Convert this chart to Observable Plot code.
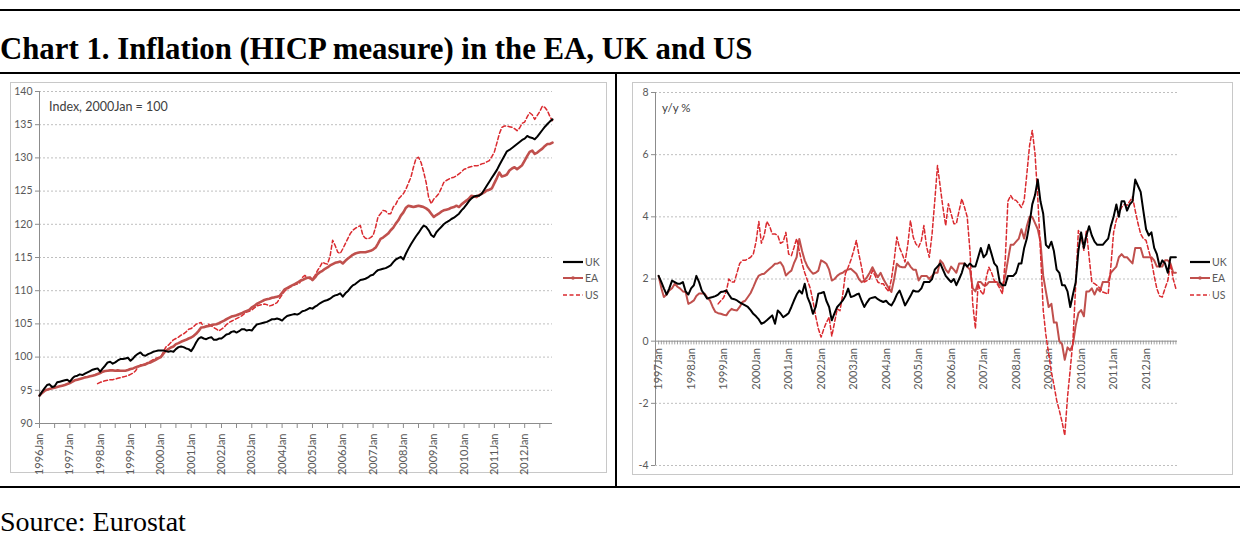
<!DOCTYPE html>
<html><head><meta charset="utf-8">
<script src="https://cdn.jsdelivr.net/npm/d3@7"></script>
<script src="https://cdn.jsdelivr.net/npm/@observablehq/plot@0.6"></script>
<style>
html,body{margin:0;padding:0;background:#fff;}
#page{position:relative;width:1240px;height:548px;overflow:hidden;background:#fff;}
.rule{position:absolute;background:#000;}
.title{position:absolute;left:0;top:34px;font:bold 30.8px/30px "Liberation Serif","Times New Roman",serif;color:#000;white-space:nowrap;}
.source{position:absolute;left:0;top:508px;font:28px/28px "Liberation Serif","Times New Roman",serif;color:#000;white-space:nowrap;}
.box{position:absolute;border:1px solid #c8c8c8;box-sizing:border-box;}
.panel{position:absolute;}
.note{position:absolute;font-family:Lato,"Open Sans",sans-serif;color:#404040;white-space:nowrap;}
.leg{position:absolute;font:10.5px/10px Lato,"Open Sans",sans-serif;color:#595959;white-space:nowrap;display:flex;align-items:center;}
.leg svg{display:block;margin-right:2px;}
</style></head>
<body><div id="page">
<div class="rule" style="left:0;top:9px;width:1240px;height:2px"></div>
<div class="title">Chart 1. Inflation (HICP measure) in the EA, UK and US</div>
<div class="rule" style="left:0;top:72px;width:1240px;height:2px"></div>
<div class="rule" style="left:615px;top:72px;width:2px;height:416px"></div>
<div class="rule" style="left:0;top:486px;width:1240px;height:2px"></div>
<div class="source">Source: Eurostat</div>
<div class="box" style="left:10px;top:82px;width:597px;height:391px"></div>
<div class="box" style="left:632px;top:82px;width:601px;height:393px"></div>
<div id="left" class="panel" style="left:10px;top:82px"></div>
<div id="right" class="panel" style="left:632px;top:82px"></div>
<div class="note" style="left:49px;top:99px;font-size:12.5px;">Index, 2000Jan = 100</div>
<div class="note" style="left:662px;top:101px;font-size:11.5px;">y/y %</div>
<div id="legends"></div>
</div>
<script>
// ---------- data ----------
const seriesNames = ["UK", "EA", "US"];

// Index, 2000Jan = 100 ; monthly from 1996 Jan
const ukIndex = [
94.2,94.8,95.3,95.8,95.9,95.5,95.6,96.2,96.3,96.4,96.5,96.6,
96.3,96.8,97.1,97.2,97.4,97.3,97.5,97.7,97.9,98.1,98.2,98.3,
97.8,98.3,98.7,99.2,99.3,99.0,99.2,99.5,99.7,99.7,99.8,99.9,
99.45,99.8,100.2,100.5,100.7,100.3,100.2,100.45,100.6,100.8,100.9,101.0,
101.0,101.0,100.9,100.8,100.9,100.8,101.2,101.5,101.6,101.5,101.3,101.2,
100.9,101.5,102.2,102.8,103.0,102.8,102.7,102.9,103.0,102.6,102.6,102.8,
102.8,103.1,103.4,103.5,103.8,103.9,103.7,103.9,104.2,104.2,104.0,104.1,
104.0,104.5,104.9,105.0,105.1,105.2,105.3,105.5,105.7,105.7,105.8,105.7,
105.5,105.9,106.2,106.3,106.4,106.5,106.4,106.6,106.9,107.0,107.2,107.4,
107.3,107.6,107.8,108.1,108.3,108.5,108.6,108.8,109.1,109.3,109.4,109.6,
109.1,109.6,109.9,110.4,110.8,111.0,111.3,111.6,111.7,111.8,112.0,112.3,
112.4,112.8,113.1,113.2,113.3,113.4,113.6,113.8,114.3,114.7,114.9,115.1,
114.7,115.6,116.3,117.0,117.6,118.2,118.7,119.3,119.8,119.6,119.1,118.4,
118.1,118.8,119.2,119.6,120.0,120.3,120.5,120.8,121.0,121.3,121.6,122.1,
122.5,123.0,123.5,123.9,124.2,124.3,124.3,124.6,125.2,125.8,126.4,127.0,
127.6,128.2,128.9,129.6,130.3,131.0,131.2,131.5,131.8,132.1,132.4,132.7,
132.9,133.3,133.1,133.0,132.8,133.2,133.7,134.2,134.7,135.1,135.5,135.8];

const eaIndex = [
94.2,94.6,94.9,95.1,95.2,95.3,95.4,95.5,95.6,95.7,95.8,95.95,
96.1,96.3,96.5,96.6,96.7,96.8,96.95,97.0,97.1,97.2,97.3,97.45,
97.6,97.8,97.9,97.95,98.0,98.0,97.95,98.0,97.95,97.95,97.95,98.05,
98.2,98.3,98.45,98.6,98.7,98.8,98.9,99.1,99.2,99.4,99.6,99.8,
100.0,100.5,100.95,101.2,101.45,101.6,101.95,102.1,102.3,102.45,102.6,102.8,
102.95,103.2,103.5,103.95,104.45,104.5,104.6,104.7,104.8,104.9,104.95,105.1,
105.3,105.5,105.7,105.9,106.1,106.2,106.3,106.45,106.6,106.8,106.95,107.1,
107.5,107.7,108.0,108.2,108.4,108.6,108.7,108.8,108.95,109.0,109.1,109.2,
109.7,110.2,110.4,110.6,110.8,111.0,111.2,111.45,111.6,111.8,111.95,112.0,
111.6,112.0,112.5,112.8,113.0,113.3,113.5,113.8,114.0,114.2,114.3,114.4,
114.1,114.5,114.8,115.1,115.4,115.6,115.7,115.8,115.8,115.8,115.9,116.0,
116.2,116.5,117.1,117.8,118.0,118.3,118.6,119.1,119.5,120.1,120.6,121.3,
121.8,122.5,122.8,122.7,122.6,122.7,122.8,122.7,122.6,122.4,122.1,121.6,
121.1,121.4,121.6,121.9,122.1,122.2,122.3,122.5,122.6,122.8,122.6,123.0,
123.3,123.6,123.9,124.3,124.2,124.1,124.4,124.6,124.8,125.1,125.2,125.4,
126.2,127.0,127.8,127.2,127.3,127.5,128.1,128.4,128.6,128.3,128.6,128.9,
129.6,130.3,130.9,131.1,130.6,130.8,131.1,131.4,131.8,132.1,132.1,132.3];

// monthly from 1997 Dec
const usIndex = [
96.0,
96.2,96.3,96.45,96.5,96.6,96.6,96.7,96.8,96.9,97.0,97.1,97.2,
97.4,97.6,97.9,98.5,98.8,98.9,99.0,99.2,99.4,99.6,99.8,99.95,
100.0,100.8,101.5,101.8,102.2,102.6,102.8,103.0,103.3,103.5,103.8,104.2,
104.3,104.6,104.95,105.1,105.2,104.5,104.7,104.95,104.7,104.45,104.2,103.95,
104.2,104.5,104.9,105.2,105.4,105.6,105.8,106.0,106.2,106.5,106.8,106.9,
107.1,107.4,107.7,107.8,107.9,108.0,107.9,107.7,107.8,108.0,108.2,108.8,
109.4,109.95,110.2,110.5,110.7,110.9,111.0,111.2,112.0,112.3,111.95,111.8,
111.8,112.3,113.0,113.6,114.3,114.1,114.0,115.2,117.6,116.8,115.8,115.6,
116.3,117.1,117.8,118.6,119.1,119.4,119.6,119.8,118.3,117.9,117.8,118.0,
118.3,119.6,121.1,121.6,122.1,122.0,121.6,121.6,122.6,123.0,123.8,124.2,
124.6,125.3,126.2,127.1,128.6,129.9,130.1,129.3,127.9,126.3,124.0,123.1,
123.8,124.2,124.6,125.4,126.3,126.6,126.8,127.0,127.1,127.3,127.6,127.9,
128.3,128.4,128.6,128.7,128.8,128.8,128.9,129.1,129.2,129.4,129.6,130.2,
130.9,132.3,133.6,134.6,134.8,134.8,134.7,134.6,134.4,134.1,134.5,135.2,
135.4,136.2,136.8,136.5,135.8,136.4,137.0,137.8,137.6,137.1,136.2,135.6];

// y/y %, monthly from 1997 Jan
const ukYoy = [
2.1,1.9,1.7,1.5,1.7,1.95,1.9,1.85,1.85,1.9,1.6,1.5,
1.7,1.8,2.1,1.9,1.63,1.5,1.37,1.4,1.42,1.45,1.5,1.58,
1.6,1.63,1.5,1.37,1.35,1.31,1.25,1.2,1.15,1.1,1.0,0.88,
0.8,0.7,0.56,0.6,0.67,0.75,0.83,0.56,0.99,0.9,0.77,0.83,
0.9,1.1,1.3,1.5,1.63,1.53,1.85,1.42,1.2,0.88,1.1,1.53,
1.55,1.58,1.3,1.1,0.67,0.9,1.1,1.2,1.31,1.45,1.69,1.42,
1.45,1.5,1.53,1.3,1.1,1.25,1.37,1.4,1.42,1.35,1.3,1.26,
1.3,1.2,1.15,1.3,1.5,1.63,1.4,1.15,1.3,1.45,1.63,1.6,
1.6,1.7,1.9,1.9,1.9,2.0,2.3,2.4,2.5,2.3,2.1,2.0,
1.9,2.0,1.8,2.0,2.2,2.5,2.4,2.5,2.4,2.4,2.7,3.0,
2.7,2.8,3.1,2.8,2.5,2.4,1.9,1.8,1.8,2.1,2.1,2.1,
2.2,2.5,2.5,3.0,3.3,3.8,4.4,4.7,5.2,4.5,4.1,3.1,
3.0,3.2,2.9,2.3,2.2,1.8,1.8,1.6,1.1,1.5,1.9,2.9,
3.5,3.0,3.4,3.7,3.4,3.2,3.1,3.1,3.1,3.2,3.3,3.7,
4.0,4.4,4.0,4.5,4.5,4.2,4.4,4.5,5.2,5.0,4.8,4.2,
3.6,3.4,3.5,3.0,2.8,2.4,2.6,2.5,2.2,2.7,2.7,2.7];

const eaYoy = [
2.1,1.7,1.42,1.5,1.63,1.7,1.85,1.75,1.69,1.6,1.58,1.2,
1.25,1.31,1.45,1.53,1.53,1.53,1.4,1.31,1.1,0.94,0.9,0.88,
0.85,0.83,0.95,1.04,1.0,0.99,1.1,1.26,1.3,1.42,1.55,1.74,
1.95,2.11,2.15,2.17,2.25,2.33,2.4,2.49,2.5,2.54,2.4,2.11,
2.2,2.27,2.5,2.7,3.29,2.9,2.6,2.4,2.27,2.17,2.2,2.27,
2.6,2.55,2.49,2.3,1.95,2.0,2.1,2.17,2.2,2.27,2.3,2.33,
2.25,2.17,2.0,1.9,1.95,2.06,2.2,2.38,2.2,2.06,2.2,2.0,
1.85,1.7,1.58,2.0,2.49,2.4,2.38,2.38,2.54,2.4,2.3,2.3,
1.95,2.1,2.1,2.1,2.0,2.1,2.2,2.2,2.6,2.5,2.3,2.2,
2.4,2.3,2.2,2.5,2.5,2.5,2.4,2.3,1.7,1.6,1.9,1.9,
1.8,1.8,1.9,1.9,1.9,1.9,1.8,1.7,2.1,2.6,3.1,3.1,
3.2,3.3,3.6,3.3,3.7,4.0,4.0,3.8,3.6,3.2,2.1,1.6,
1.1,1.2,0.6,0.6,0.0,-0.1,-0.6,-0.2,-0.3,-0.1,0.5,0.9,
1.0,0.8,1.6,1.6,1.7,1.5,1.7,1.6,1.9,1.9,1.9,2.2,
2.3,2.4,2.7,2.8,2.7,2.7,2.6,2.5,3.0,3.0,3.0,2.7,
2.7,2.7,2.7,2.6,2.4,2.4,2.4,2.6,2.6,2.5,2.2,2.2];

// monthly from 1998 Nov
const usYoy = [
1.2,1.3,
1.4,1.6,2.0,1.9,1.9,2.2,2.5,2.6,2.6,2.65,2.7,2.8,
3.2,3.85,3.15,3.4,3.85,3.7,3.45,3.45,3.4,3.15,3.2,3.5,
2.8,2.75,3.0,3.3,2.9,2.5,2.2,1.95,1.7,1.3,0.8,0.4,
0.13,0.4,0.6,0.77,0.16,0.6,1.04,0.98,1.5,2.17,2.38,2.6,
2.9,3.24,2.8,2.38,1.9,1.95,2.0,2.27,2.1,1.9,1.85,1.85,
1.7,1.6,2.0,2.6,3.35,3.0,2.8,2.55,3.1,3.88,3.35,3.13,
3.03,3.24,3.72,3.03,2.7,3.45,4.5,5.65,4.96,4.3,3.72,4.42,
4.1,3.78,3.78,4.2,4.58,4.3,4.0,2.9,1.2,0.4,1.85,1.6,
1.5,2.06,2.38,2.2,1.95,1.85,1.7,1.52,2.6,4.5,4.69,4.55,
4.53,4.42,4.3,4.53,5.38,6.3,6.78,6.03,4.6,2.9,1.0,0.2,
-0.4,-1.0,-1.4,-1.9,-2.23,-2.6,-3.03,-1.8,-0.9,0.02,1.8,3.56,
3.35,2.92,3.56,2.7,1.9,1.85,1.79,1.7,1.58,1.55,1.52,2.4,
3.5,3.9,4.1,4.31,4.4,4.37,4.5,4.64,4.2,3.8,3.45,3.3,
3.24,2.9,2.6,2.1,1.69,1.45,1.42,1.7,1.95,2.49,2.0,1.69];

const leftYearLabels = ["1996Jan","1997Jan","1998Jan","1999Jan","2000Jan","2001Jan","2002Jan","2003Jan","2004Jan","2005Jan","2006Jan","2007Jan","2008Jan","2009Jan","2010Jan","2011Jan","2012Jan"];
const rightYearLabels = ["1997Jan","1998Jan","1999Jan","2000Jan","2001Jan","2002Jan","2003Jan","2004Jan","2005Jan","2006Jan","2007Jan","2008Jan","2009Jan","2010Jan","2011Jan","2012Jan"];
const leftYTicks = [90,95,100,105,110,115,120,125,130,135,140];
const rightYTicks = [-4,-2,0,2,4,6,8];

// ---------- helpers ----------
const utc = (y, m, d = 1) => new Date(Date.UTC(y, m, d));
const toSeries = (arr, y, m) => arr.map((v, i) => ({date: utc(y, m + i), value: v}));
const labelDate = s => utc(+s.slice(0, 4), 0);

const C_UK = "#000000", C_EA = "#c0504d", C_US = "#da2a2f";
const AX = "#8c8c8c", GRID = "#b8b8b8", TXT = "#595959";
const FONT = "Lato, 'Open Sans', sans-serif";

// ---------- left panel ----------
const leftDomain = [utc(1996, 0), utc(2012, 11)];
const leftHalfYears = d3.range(0, 204, 6).map(i => utc(1996, i));
const left = Plot.plot({
  width: 597, height: 391,
  marginLeft: 29, marginRight: 55, marginTop: 9, marginBottom: 50,
  x: {type: "utc", domain: leftDomain, label: null, axis: null},
  y: {domain: [90, 140], label: null, axis: null},
  style: {fontFamily: FONT, fontSize: "10px", color: TXT, background: "transparent", overflow: "visible"},
  marks: [
    Plot.ruleY(leftYTicks.filter(d => d > 90), {stroke: GRID, strokeDasharray: "2,2", strokeWidth: 0.9}),
    Plot.ruleX([leftDomain[0]], {stroke: AX}),
    Plot.ruleY([90], {stroke: AX}),
    Plot.axisY({ticks: leftYTicks, tickSize: 4, tickPadding: 3, tickFormat: d => String(d), fontSize: 10.5, stroke: AX, label: null}),
    Plot.axisX({ticks: leftHalfYears, tickSize: 5, tickFormat: () => "", stroke: AX, label: null}),
    Plot.text(leftYearLabels, {x: labelDate, y: 90, text: d => d, rotate: -90, textAnchor: "end", dy: 10, fontSize: 11, fill: TXT}),
    Plot.line(toSeries(usIndex, 1997, 11), {x: "date", y: "value", stroke: C_US, strokeWidth: 1.5, strokeDasharray: "4,2.5"}),
    Plot.line(toSeries(eaIndex, 1996, 0), {x: "date", y: "value", stroke: C_EA, strokeWidth: 2.6}),
    Plot.line(toSeries(ukIndex, 1996, 0), {x: "date", y: "value", stroke: C_UK, strokeWidth: 2})
  ]
});
document.getElementById("left").append(left);

// ---------- right panel ----------
const rightDomain = [utc(1996, 10, 27), utc(2012, 11, 19)];
const rightMonths = d3.range(0, 192).map(i => utc(1997, i));
const right = Plot.plot({
  width: 601, height: 393,
  marginLeft: 23, marginRight: 56, marginTop: 10, marginBottom: 10,
  x: {type: "utc", domain: rightDomain, label: null, axis: null},
  y: {domain: [-4, 8], label: null, axis: null},
  style: {fontFamily: FONT, fontSize: "10px", color: TXT, background: "transparent", overflow: "visible"},
  marks: [
    Plot.ruleY(rightYTicks.filter(d => d !== 0), {stroke: GRID, strokeDasharray: "2,2", strokeWidth: 0.9}),
    Plot.ruleX([rightDomain[0]], {stroke: AX}),
    Plot.axisY({ticks: rightYTicks, tickSize: 4, tickPadding: 3, tickFormat: d => String(d), fontSize: 10.5, stroke: AX, label: null}),
    Plot.ruleX(rightMonths, {x: d => d, y1: 0, y2: -0.12, stroke: AX, strokeWidth: 0.8}),
    Plot.ruleY([0], {stroke: AX}),
    Plot.text(rightYearLabels, {x: labelDate, y: 0, text: d => d, rotate: -90, textAnchor: "end", dy: 7, fontSize: 11, fill: TXT}),
    Plot.line(toSeries(eaYoy, 1997, 0), {x: "date", y: "value", stroke: C_EA, strokeWidth: 2}),
    Plot.line(toSeries(usYoy, 1998, 10), {x: "date", y: "value", stroke: C_US, strokeWidth: 1.5, strokeDasharray: "4,2.5"}),
    Plot.line(toSeries(ukYoy, 1997, 0), {x: "date", y: "value", stroke: C_UK, strokeWidth: 2})
  ]
});
document.getElementById("right").append(right);

// ---------- legends ----------
const styles = {
  UK: {stroke: C_UK, w: 2.2, dash: null, dot: false},
  EA: {stroke: C_EA, w: 2, dash: null, dot: true},
  US: {stroke: C_US, w: 1.6, dash: "4,2.5", dot: false}
};
function legend(x, ys) {
  seriesNames.forEach((name, i) => {
    const s = styles[name];
    const div = document.createElement("div");
    div.className = "leg";
    div.style.left = x + "px";
    div.style.top = (ys[i] - 5) + "px";
    div.innerHTML = `<svg width="20" height="10"><line x1="0" y1="5" x2="20" y2="5" stroke="${s.stroke}" stroke-width="${s.w}" ${s.dash ? `stroke-dasharray="${s.dash}"` : ""}/>${s.dot ? `<circle cx="10" cy="5" r="1.8" fill="${s.stroke}"/>` : ""}</svg><span>${name}</span>`;
    document.getElementById("legends").append(div);
  });
}
legend(563, [261.5, 277.5, 294.5]);
legend(1190, [261.5, 277.5, 295]);
</script>
</body></html>
